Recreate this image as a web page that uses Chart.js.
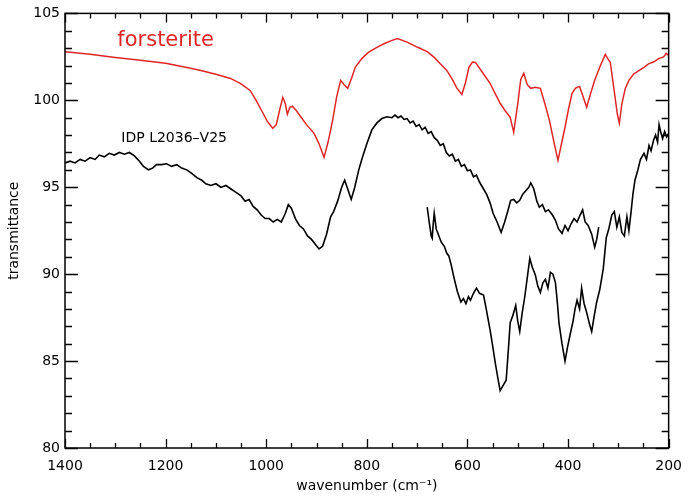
<!DOCTYPE html>
<html>
<head>
<meta charset="utf-8">
<script src="https://cdn.jsdelivr.net/npm/chart.js@4"></script>
<style>
  html, body { margin: 0; padding: 0; background: #fff; }
  #wrap { width: 692px; height: 497px; }
</style>
</head>
<body>
<div id="wrap"><canvas id="spectre"></canvas></div>
<script>
// ===========================
// Données
// ===========================
const forsteriteWave = [1400,1350,1300,1250,1200,1160,1130,1100,1071,1050,1032,1020,1009,998,987,980,972,967,962,958,953,948,940,930,920,905,895,885,877,868,860,852,845,838,830,823,810,797,780,764,750,739,720,699,680,666,654,641,630,621,611,604,597,590,584,570,555,545,535,525,515,508,500,494,488,481,474,465,455,446,437,428,420,413,406,399,392,385,377,370,363,355,347,337,326,321,316,308,302,298,293,286,279,270,260,249,240,230,220,210,205,200];
const forsteriteTrans = [102.8,102.65,102.47,102.3,102.13,101.9,101.72,101.5,101.26,100.95,100.57,100.0,99.4,98.8,98.39,98.6,99.6,100.17,99.8,99.2,99.6,99.66,99.4,99.0,98.6,98.1,97.5,96.72,97.6,98.85,100.2,101.15,100.9,100.69,101.3,101.9,102.4,102.76,103.05,103.28,103.45,103.55,103.35,103.05,102.8,102.47,102.1,101.72,101.2,100.7,100.34,101.0,101.9,102.2,102.18,101.6,100.98,100.4,99.83,99.4,99.02,98.16,99.8,101.2,101.55,100.9,100.69,100.75,100.69,99.8,98.85,97.6,96.55,97.5,98.45,99.5,100.4,100.7,100.8,100.2,99.6,100.4,101.15,101.9,102.64,102.4,102.18,100.5,99.2,98.68,99.8,100.7,101.15,101.5,101.7,101.9,102.1,102.2,102.4,102.5,102.7,102.59];

const idpWave = [1400,1390,1380,1370,1360,1350,1340,1332,1322,1312,1302,1292,1282,1272,1262,1252,1244,1234,1226,1218,1208,1198,1188,1178,1168,1158,1148,1138,1128,1120,1110,1100,1090,1080,1070,1060,1050,1042,1034,1026,1018,1010,1002,994,986,978,970,962,956,950,942,934,926,918,910,902,895,888,880,872,866,858,850,844,838,831,824,816,809,800,790,780,770,760,750,744,738,732,726,720,714,708,702,696,690,684,678,672,666,660,654,648,642,636,630,624,618,612,606,600,594,588,582,576,570,562,555,549,541,533,526,520,514,508,502,496,490,484,478,474,468,462,457,451,445,439,431,425,419,412,406,400,394,388,382,376,371,366,360,353,347,343,339];
const idpTrans = [96.4,96.5,96.4,96.6,96.5,96.7,96.6,96.85,96.75,96.95,96.85,97.0,96.9,97.0,96.8,96.5,96.2,96.0,96.1,96.3,96.3,96.35,96.2,96.3,96.1,96.0,95.8,95.55,95.4,95.2,95.1,95.2,95.0,95.1,94.9,94.7,94.5,94.2,94.3,93.9,93.7,93.4,93.2,93.2,93.0,93.15,93.0,93.5,94.0,93.8,93.2,92.8,92.6,92.2,92.0,91.7,91.45,91.6,92.3,93.3,93.6,94.2,95.0,95.4,94.9,94.3,95.0,96.0,96.7,97.5,98.3,98.7,98.95,99.05,99.0,99.15,99.0,99.1,98.9,98.95,98.7,98.8,98.5,98.6,98.3,98.45,98.1,98.2,97.85,97.7,97.4,97.5,97.0,96.8,96.9,96.5,96.6,96.2,96.3,95.95,96.0,95.6,95.7,95.3,95.0,94.6,94.1,93.5,93.0,92.4,93.0,93.6,94.25,94.3,94.1,94.25,94.6,94.8,95.0,95.25,94.9,94.2,93.85,94.0,93.6,93.7,93.4,93.1,92.6,92.35,92.8,92.5,92.9,93.2,93.0,93.4,93.7,93.0,92.8,92.3,91.55,92.0,92.7];

const lowerWave = [680,676,672,670,668,666,662,658,652,646,641,637,632,627,620,613,608,603,598,594,588,582,576,568,562,555,550,545,540,535,529,523,519,515,510,504,500,496,491,486,481,476,471,465,460,455,450,445,440,435,430,425,421,418,412,406,401,396,390,386,382,377,373,368,363,358,353,348,343,337,330,324,319,313,308,303,298,293,288,283,279,275,271,267,262,256,249,244,239,235,230,226,222,219,216,212,208,204,200];
const lowerTrans = [93.85,93.0,92.2,92.07,92.9,93.5,92.6,92.3,91.84,91.6,91.2,91.05,90.5,89.83,89.0,88.4,88.6,88.3,88.7,88.5,88.9,89.2,88.9,88.8,87.9,86.8,85.9,84.95,84.1,83.3,83.6,83.9,85.5,87.2,87.6,88.2,87.3,86.7,87.8,88.7,89.8,90.9,90.4,89.95,89.3,88.95,89.5,89.7,89.2,90.1,90.0,89.5,88.3,87.2,86.0,85.0,85.8,86.5,87.3,88.0,88.5,88.0,89.2,88.3,87.8,87.2,86.7,87.6,88.4,89.1,90.3,92.1,92.6,93.4,93.6,92.7,93.3,92.4,92.2,93.3,92.5,93.5,94.6,95.4,95.9,96.6,96.95,96.6,97.4,97.1,97.7,98.0,97.6,98.6,98.2,97.8,98.2,97.9,98.1];

const xTicks = [1400, 1200, 1000, 800, 600, 400, 200];
const yTicks = [80, 85, 90, 95, 100, 105];

// étiquettes dans le graphique (en coordonnées de données)
const etiquettes = [
    { text: 'forsterite', w: 1200, t: 103.45, color: 'rgb(222,38,38)', size: 21 },
    { text: 'IDP L2036\u2013V25', w: 1183, t: 97.8, color: '#000', size: 14 }
];

const POLICE = '"DejaVu Sans", sans-serif';

function points(xs, ys) {
    return xs.map((x, i) => ({ x: x, y: ys[i] }));
}

// ===========================
// Cadre, graduations internes et étiquettes
// ===========================
const cadrePlugin = {
    id: 'cadre',
    afterDatasetsDraw(chart) {
        const ctx = chart.ctx;
        const a = chart.chartArea;
        const sx = chart.scales.x, sy = chart.scales.y;
        ctx.save();
        ctx.strokeStyle = '#000';
        ctx.lineWidth = 1.5;
        ctx.strokeRect(a.left, a.top, a.right - a.left, a.bottom - a.top);

        ctx.lineWidth = 1.3;
        ctx.beginPath();
        for (let w = 200; w <= 1400; w += 50) {
            const px = Math.round(sx.getPixelForValue(w)) + 0.5;
            const len = (w % 200 === 0) ? 9 : 5;
            ctx.moveTo(px, a.bottom); ctx.lineTo(px, a.bottom - len);
            ctx.moveTo(px, a.top); ctx.lineTo(px, a.top + len);
        }
        for (let t = 80; t <= 105; t += 1) {
            const py = Math.round(sy.getPixelForValue(t)) + 0.5;
            const len = (t % 5 === 0) ? 13 : 7;
            ctx.moveTo(a.left, py); ctx.lineTo(a.left + len, py);
            ctx.moveTo(a.right, py); ctx.lineTo(a.right - len, py);
        }
        ctx.stroke();

        ctx.textAlign = 'center';
        ctx.textBaseline = 'middle';
        etiquettes.forEach(e => {
            ctx.fillStyle = e.color;
            ctx.font = e.size + 'px ' + POLICE;
            ctx.fillText(e.text, sx.getPixelForValue(e.w), sy.getPixelForValue(e.t));
        });
        ctx.restore();
    }
};

// ===========================
// Graphique : spectres
// ===========================
const ctxSpectre = document.getElementById('spectre').getContext('2d');
const spectreChart = new Chart(ctxSpectre, {
    type: 'line',
    data: {
        datasets: [
            {
                label: 'forsterite',
                data: points(forsteriteWave, forsteriteTrans),
                borderColor: 'rgb(222,38,38)',
                borderWidth: 1.5,
                pointRadius: 0,
                tension: 0,
                fill: false
            },
            {
                label: 'IDP L2036-V25',
                data: points(idpWave, idpTrans),
                borderColor: '#000',
                borderWidth: 1.6,
                pointRadius: 0,
                tension: 0,
                fill: false
            },
            {
                label: 'IDP L2036-V25 (bas)',
                data: points(lowerWave, lowerTrans),
                borderColor: '#000',
                borderWidth: 1.6,
                pointRadius: 0,
                tension: 0,
                fill: false
            }
        ]
    },
    options: {
        responsive: true,
        maintainAspectRatio: false,
        animation: false,
        layout: { padding: { top: 13, right: 14, left: 0, bottom: 0 } },
        plugins: {
            legend: { display: false },
            tooltip: { enabled: false }
        },
        scales: {
            x: {
                type: 'linear',
                reverse: true,
                min: 200,
                max: 1400,
                grid: { display: false, drawTicks: false },
                border: { display: false },
                afterBuildTicks: s => { s.ticks = xTicks.map(v => ({ value: v })); },
                afterFit: s => { s.height = 49; },
                ticks: {
                    autoSkip: false,
                    maxRotation: 0,
                    padding: 10,
                    color: '#000',
                    font: { family: POLICE, size: 14 },
                    callback: v => String(v)
                },
                title: {
                    display: true,
                    text: 'wavenumber (cm\u207B\u00B9)',
                    color: '#000',
                    font: { family: POLICE, size: 14 },
                    padding: { top: 0, bottom: 2 }
                }
            },
            y: {
                min: 80,
                max: 105,
                grid: { display: false, drawTicks: false },
                border: { display: false },
                afterBuildTicks: s => { s.ticks = yTicks.map(v => ({ value: v })); },
                afterFit: s => { s.width = 65; },
                ticks: {
                    padding: 5,
                    color: '#000',
                    font: { family: POLICE, size: 14 },
                    callback: v => String(v)
                },
                title: {
                    display: true,
                    text: 'transmittance',
                    color: '#000',
                    font: { family: POLICE, size: 14 },
                    padding: { top: 6, bottom: 0 }
                }
            }
        }
    },
    plugins: [cadrePlugin]
});
</script>
</body>
</html>
